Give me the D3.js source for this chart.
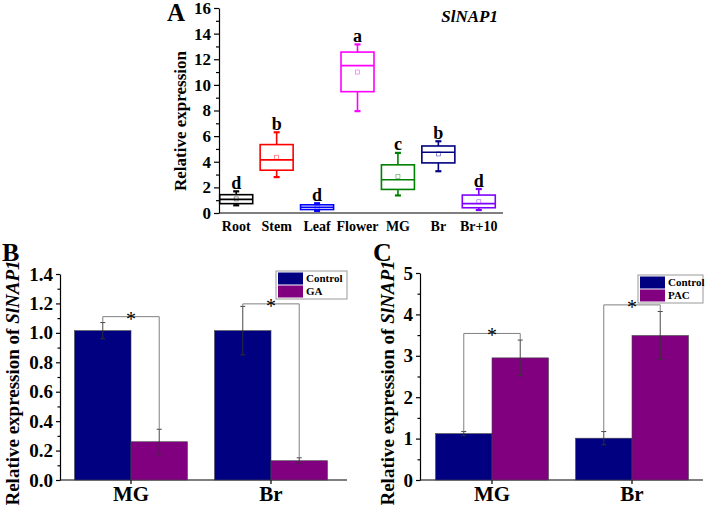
<!DOCTYPE html>
<html>
<head>
<meta charset="utf-8">
<script src="https://cdn.jsdelivr.net/npm/d3@7"></script>
<style>
  body { margin: 0; background: #fff; }
  svg { display: block; }
  svg text { font-family: 'Liberation Serif', 'Times New Roman', serif; }
</style>
</head>
<body>
<svg id="chart" width="708" height="505"></svg>
<script>
// panel A: box plots
const boxCats = ['Root', 'Stem', 'Leaf', 'Flower', 'MG', 'Br', 'Br+10'];
const boxColors = ['#000000', '#ff0000', '#0000ff', '#ff00ff', '#008000', '#000080', '#8000ff'];
const boxMin = [0.6, 2.8, 0.16, 7.95, 1.37, 3.26, 0.23];
const boxQ1 = [0.73, 3.34, 0.27, 9.47, 1.84, 3.91, 0.41];
const boxMed = [1.06, 4.15, 0.45, 11.5, 2.59, 4.74, 0.73];
const boxQ3 = [1.43, 5.34, 0.64, 12.56, 3.76, 5.23, 1.4];
const boxMax = [1.69, 6.3, 0.76, 13.16, 4.69, 5.6, 1.87];
const boxMean = [1.1, 4.35, 0.45, 11.0, 2.85, 4.61, 0.88];
const boxLetters = ['d', 'b', 'd', 'a', 'c', 'b', 'd'];
const boxTicks = [0, 2, 4, 6, 8, 10, 12, 14, 16];

// panels B and C: grouped bars
const groups = ['MG', 'Br'];
const gaControl = [1.015, 1.015];
const gaControlErr = [0.055, 0.165];
const gaTreat = [0.26, 0.131];
const gaTreatErr = [0.085, 0.02];
const gaBracket = [1.11, 1.197];
const gaTicks = [0, 0.2, 0.4, 0.6, 0.8, 1.0, 1.2, 1.4];

const pacControl = [1.12, 1.01];
const pacControlErr = [0.05, 0.16];
const pacTreat = [2.95, 3.49];
const pacTreatErr = [0.43, 0.58];
const pacBracket = [3.54, 4.23];
const pacTicks = [0, 1, 2, 3, 4, 5];

const svg = d3.select('#chart');

const styleAxis = (g, size) => {
  g.attr('font-family', null).attr('font-size', null);
  g.selectAll('text').attr('font-size', size).attr('font-weight', 'bold').attr('fill', '#000');
  g.selectAll('path.domain, .tick line').attr('stroke', '#000').attr('stroke-width', 1.2);
};

// ---------- panel A ----------
const xA = d3.scaleBand().domain(boxCats).range([216, 499]);
const yA = d3.scaleLinear().domain([0, 16]).range([213, 8]);

const gA = svg.append('g');

gA.append('g')
  .attr('transform', 'translate(219,0)')
  .call(d3.axisLeft(yA).tickValues(d3.range(1, 16, 2)).tickSize(3).tickFormat(''))
  .call(g => g.select('.domain').remove())
  .call(styleAxis, 17);

gA.append('g')
  .attr('transform', 'translate(219,0)')
  .call(d3.axisLeft(yA).tickValues(boxTicks).tickSize(5).tickPadding(3).tickSizeOuter(0))
  .call(styleAxis, 17);

gA.append('g')
  .attr('transform', `translate(0,${yA(0)})`)
  .call(d3.axisBottom(xA).tickSize(0).tickPadding(8))
  .call(g => g.select('.domain').attr('d', `M219,0H503`))
  .call(styleAxis, 14);

const boxW = 33;
const boxes = gA.append('g')
  .selectAll('g')
  .data(boxCats)
  .enter()
  .append('g')
  .attr('stroke', (d, i) => boxColors[i])
  .attr('fill', 'none')
  .attr('stroke-width', 1.6);

const cx = d => xA(d) + xA.bandwidth() / 2;

boxes.append('line')
  .attr('x1', cx).attr('x2', cx)
  .attr('y1', (d, i) => yA(boxMax[i]))
  .attr('y2', (d, i) => yA(boxQ3[i]));
boxes.append('line')
  .attr('x1', cx).attr('x2', cx)
  .attr('y1', (d, i) => yA(boxQ1[i]))
  .attr('y2', (d, i) => yA(boxMin[i]));
boxes.append('line')
  .attr('x1', d => cx(d) - 3).attr('x2', d => cx(d) + 3)
  .attr('y1', (d, i) => yA(boxMax[i])).attr('y2', (d, i) => yA(boxMax[i]))
  .attr('stroke-width', 2.2);
boxes.append('line')
  .attr('x1', d => cx(d) - 3).attr('x2', d => cx(d) + 3)
  .attr('y1', (d, i) => yA(boxMin[i])).attr('y2', (d, i) => yA(boxMin[i]))
  .attr('stroke-width', 2.2);
boxes.append('rect')
  .attr('x', d => cx(d) - boxW / 2)
  .attr('width', boxW)
  .attr('y', (d, i) => yA(boxQ3[i]))
  .attr('height', (d, i) => yA(boxQ1[i]) - yA(boxQ3[i]));
boxes.append('line')
  .attr('x1', d => cx(d) - boxW / 2).attr('x2', d => cx(d) + boxW / 2)
  .attr('y1', (d, i) => yA(boxMed[i])).attr('y2', (d, i) => yA(boxMed[i]));
boxes.append('rect')
  .attr('x', d => cx(d) - 2)
  .attr('y', (d, i) => yA(boxMean[i]) - 2)
  .attr('width', 4).attr('height', 4)
  .attr('stroke-width', 0.7)
  .attr('stroke-opacity', 0.6);

gA.append('g')
  .selectAll('text')
  .data(boxCats)
  .enter()
  .append('text')
  .attr('x', cx)
  .attr('y', (d, i) => yA(boxMax[i]) - 2.5)
  .attr('text-anchor', 'middle')
  .attr('font-size', 18)
  .attr('font-weight', 'bold')
  .text((d, i) => boxLetters[i]);

svg.append('text')
  .attr('x', 167).attr('y', 21)
  .attr('font-size', 25).attr('font-weight', 'bold')
  .text('A');
svg.append('text')
  .attr('x', 498).attr('y', 22)
  .attr('text-anchor', 'end')
  .attr('font-size', 17).attr('font-weight', 'bold').attr('font-style', 'italic')
  .text('SlNAP1');
svg.append('text')
  .attr('transform', 'translate(186,121) rotate(-90)')
  .attr('text-anchor', 'middle')
  .attr('font-size', 17).attr('font-weight', 'bold')
  .text('Relative expression');

// ---------- panels B and C ----------
function barPanel(opt) {
  const g = svg.append('g');
  const x0 = d3.scaleBand().domain(groups).range(opt.xRange);
  const x1 = d3.scaleBand().domain(['Control', opt.treatName])
    .range([0, x0.bandwidth()]).paddingOuter(0.24);
  const y = d3.scaleLinear().domain(opt.yDomain).range([480, opt.yTop]);

  g.append('g')
    .attr('transform', `translate(${opt.axisX},0)`)
    .call(d3.axisLeft(y).tickValues(opt.minor).tickSize(2.5).tickFormat(''))
    .call(a => a.select('.domain').remove())
    .call(styleAxis, 18);
  g.append('g')
    .attr('transform', `translate(${opt.axisX},0)`)
    .call(d3.axisLeft(y).tickValues(opt.ticks).tickSize(4).tickPadding(3).tickSizeOuter(0)
      .tickFormat(opt.fmt))
    .call(styleAxis, 19);
  g.append('g')
    .attr('transform', 'translate(0,480)')
    .call(d3.axisBottom(x0).tickSize(4).tickPadding(2).tickSizeOuter(0))
    .call(a => a.select('.domain').attr('d', `M${opt.axisX},0H${opt.axisEnd}`))
    .call(styleAxis, 21);

  const bx = (grp, key) => x0(grp) + x1(key);
  const mid = (grp, key) => bx(grp, key) + x1.bandwidth() / 2;

  const series = [
    { key: 'Control', vals: opt.control, errs: opt.controlErr, color: '#000080' },
    { key: opt.treatName, vals: opt.treat, errs: opt.treatErr, color: '#800080' }
  ];

  series.forEach(s => {
    g.append('g')
      .selectAll('rect')
      .data(groups)
      .enter()
      .append('rect')
      .attr('x', d => bx(d, s.key))
      .attr('width', x1.bandwidth())
      .attr('y', (d, i) => y(s.vals[i]))
      .attr('height', (d, i) => y(0) - y(s.vals[i]))
      .attr('fill', s.color)
      .attr('stroke', '#444')
      .attr('stroke-width', 0.6);
  });

  series.forEach(s => {
    const eb = g.append('g')
      .selectAll('g')
      .data(groups)
      .enter()
      .append('g')
      .attr('stroke', '#333')
      .attr('stroke-width', 0.9);
    eb.append('line')
      .attr('x1', d => mid(d, s.key)).attr('x2', d => mid(d, s.key))
      .attr('y1', (d, i) => y(s.vals[i] + s.errs[i]))
      .attr('y2', (d, i) => y(s.vals[i] - s.errs[i]));
    [1, -1].forEach(sign => {
      eb.append('line')
        .attr('x1', d => mid(d, s.key) - 2.5).attr('x2', d => mid(d, s.key) + 2.5)
        .attr('y1', (d, i) => y(s.vals[i] + sign * s.errs[i]))
        .attr('y2', (d, i) => y(s.vals[i] + sign * s.errs[i]));
    });
  });

  // significance brackets
  g.append('g')
    .selectAll('path')
    .data(groups)
    .enter()
    .append('path')
    .attr('fill', 'none')
    .attr('stroke', '#808080')
    .attr('stroke-width', 1)
    .attr('d', (d, i) => {
      const xa = mid(d, 'Control'), xb = mid(d, opt.treatName);
      return `M${xa},${y(opt.control[i] + opt.controlErr[i])}V${y(opt.bracket[i])}` +
        `H${xb}V${y(opt.treat[i] + opt.treatErr[i])}`;
    });
  g.append('g')
    .selectAll('text')
    .data(groups)
    .enter()
    .append('text')
    .attr('x', d => x0(d) + x0.bandwidth() / 2)
    .attr('y', (d, i) => y(opt.bracket[i]) + 9)
    .attr('text-anchor', 'middle')
    .attr('font-size', 20)
    .text('*');

  // legend
  const lg = g.append('g').attr('transform', `translate(${opt.legend[0]},${opt.legend[1]})`);
  lg.append('rect')
    .attr('width', opt.legend[2]).attr('height', 28)
    .attr('fill', '#fff').attr('stroke', '#999').attr('stroke-width', 1);
  series.forEach((s, i) => {
    lg.append('rect')
      .attr('x', 2).attr('y', 1.5 + i * 13)
      .attr('width', 25).attr('height', 12)
      .attr('fill', s.color);
    lg.append('text')
      .attr('x', 30).attr('y', 11 + i * 13)
      .attr('font-size', 11).attr('font-weight', 'bold')
      .text(s.key);
  });

  // labels
  svg.append('text')
    .attr('x', opt.letterX).attr('y', 261)
    .attr('font-size', 26).attr('font-weight', 'bold')
    .text(opt.letter);
  const yl = svg.append('text')
    .attr('transform', `translate(${opt.labelX},383) rotate(-90)`)
    .attr('text-anchor', 'middle')
    .attr('font-size', 19).attr('font-weight', 'bold');
  yl.append('tspan').text('Relative expression of ');
  yl.append('tspan').attr('font-style', 'italic').text('SlNAP1');
}

barPanel({
  letter: 'B', letterX: 2, labelX: 19,
  treatName: 'GA',
  xRange: [61, 341], axisX: 60, axisEnd: 347,
  yDomain: [0, 1.4], yTop: 274,
  ticks: gaTicks, minor: d3.range(1, 14, 2).map(v => v / 10), fmt: d3.format('.1f'),
  control: gaControl, controlErr: gaControlErr,
  treat: gaTreat, treatErr: gaTreatErr, bracket: gaBracket,
  legend: [276, 271, 71]
});

barPanel({
  letter: 'C', letterX: 373, labelX: 394,
  treatName: 'PAC',
  xRange: [422, 702], axisX: 420, axisEnd: 703,
  yDomain: [0, 5], yTop: 273,
  ticks: pacTicks, minor: [0.5, 1.5, 2.5, 3.5, 4.5], fmt: d3.format('d'),
  control: pacControl, controlErr: pacControlErr,
  treat: pacTreat, treatErr: pacTreatErr, bracket: pacBracket,
  legend: [638, 275, 65]
});
</script>
</body>
</html>
